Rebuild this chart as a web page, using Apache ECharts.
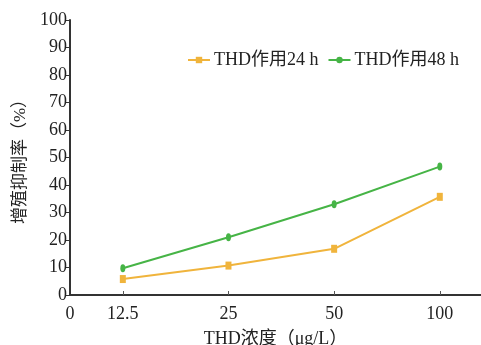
<!DOCTYPE html>
<html><head><meta charset="utf-8">
<script src="https://cdn.jsdelivr.net/npm/echarts@6/dist/echarts.min.js"></script>
<style>html,body{margin:0;padding:0;background:#fff}#c{width:481px;height:345px}</style>
</head><body><div id="c"></div>
<script>
const categories = ['12.5', '25', '50', '100'];
const series24 = [5.8, 10.7, 16.8, 35.7];
const series48 = [9.7, 21.0, 33.0, 46.7];
const yTicks = [0, 10, 20, 30, 40, 50, 60, 70, 80, 90, 100];
const names = ['THD作用24 h', 'THD作用48 h'];

const serif = '"Liberation Serif", "Noto Sans CJK SC", serif';
const pos = categories.map((c, i) => i + 0.5);
const labelMap = {0: '0'};
pos.forEach((p, i) => labelMap[p] = categories[i]);

const chart = echarts.init(document.getElementById('c'));
chart.setOption({
  animation: false,
  grid: {left: 70, top: 20, right: 0, bottom: 50, containLabel: false, outerBoundsMode: 'none'},
  legend: {
    top: 46, left: 182, itemGap: 9, itemWidth: 22, itemHeight: 8,
    textStyle: {fontFamily: serif, fontSize: 18, color: '#222', padding: [0, 0, 0, -1]},
    data: names
  },
  xAxis: {
    type: 'value', min: 0, max: 3.89,
    name: 'THD浓度（μg/L）', nameLocation: 'middle', nameGap: 35,
    nameTextStyle: {fontFamily: serif, fontSize: 18, color: '#222'},
    axisLine: {lineStyle: {color: '#333', width: 2}},
    axisTick: {inside: true, length: 4, customValues: pos, lineStyle: {color: '#555'}},
    axisLabel: {customValues: [0].concat(pos), fontFamily: serif, fontSize: 18, color: '#222', margin: 10,
      formatter: v => labelMap[v] !== undefined ? labelMap[v] : ''},
    splitLine: {show: false}
  },
  yAxis: {
    type: 'value', min: 0, max: 100, interval: 10,
    name: '增殖抑制率（%）', nameLocation: 'middle', nameGap: 33, nameRotate: 90,
    nameTextStyle: {fontFamily: serif, fontSize: 17, color: '#222'},
    axisLine: {show: true, lineStyle: {color: '#333', width: 2}},
    axisTick: {show: true, length: 4, lineStyle: {color: '#333'}},
    axisLabel: {fontFamily: serif, fontSize: 18, color: '#222', margin: 3,
      formatter: v => yTicks.includes(v) ? String(v) : ''},
    splitLine: {show: false}
  },
  series: [
    {name: names[0], type: 'line', data: series24.map((v, i) => [pos[i], v]),
      symbol: 'rect', symbolSize: [6, 8], itemStyle: {color: '#f0b43c'},
      lineStyle: {color: '#f0b43c', width: 2}},
    {name: names[1], type: 'line', data: series48.map((v, i) => [pos[i], v]),
      symbol: 'circle', symbolSize: [5, 8], itemStyle: {color: '#46b446'},
      lineStyle: {color: '#46b446', width: 2}}
  ]
});
</script></body></html>
